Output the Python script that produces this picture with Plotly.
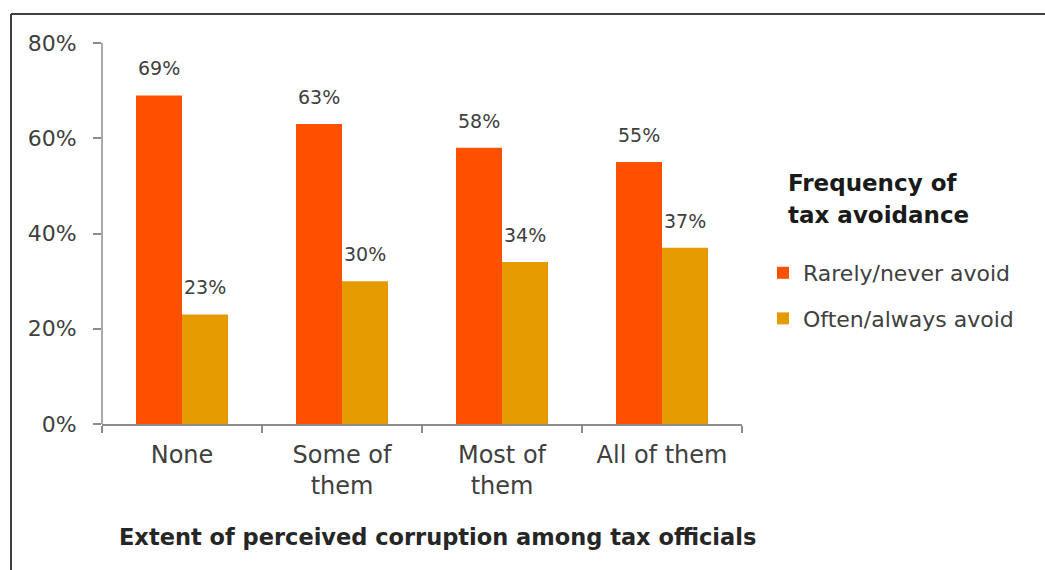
import plotly.graph_objects as go

categories = ["None", "Some of<br>them", "Most of<br>them", "All of them"]
series_names = ["Rarely/never avoid", "Often/always avoid"]
rarely_never = [69, 63, 58, 55]
often_always = [23, 30, 34, 37]
y_ticks = [0, 20, 40, 60, 80]
colors = ["#FF5000", "#E59B00"]

W, H = 1045, 570
L, R, T, B = 102, 303, 43, 146
pw, ph = W - L - R, H - T - B
FONT = "DejaVu Sans"
TXT = "#404040"
AXIS = "#8c8c8c"


def px_x(x):
    return (x - L) / pw


def px_y(y):
    return (H - B - y) / ph


fig = go.Figure()
for name, vals, col in zip(series_names, [rarely_never, often_always], colors):
    fig.add_trace(go.Bar(
        x=categories, y=vals, name=name, marker=dict(color=col, line=dict(width=0)),
        legendgroup=name,
    ))

# value labels above each bar
for i, vals in enumerate([rarely_never, often_always]):
    for c, v in zip(categories, vals):
        fig.add_annotation(
            x=c, y=v, text=f"{v}%", showarrow=False, xref="x", yref="y",
            xshift=-23 if i == 0 else 23, yanchor="bottom", yshift=14,
            font=dict(family=FONT, size=19, color=TXT),
        )

# x axis title
fig.add_annotation(
    x=px_x(437), y=px_y(537), xref="paper", yref="paper",
    text="<b>Extent of perceived corruption among tax officials</b>",
    showarrow=False, xanchor="center", yanchor="middle",
    font=dict(family=FONT, size=22.5, color="#262626"),
)

# legend heading, one line per annotation
for line, yc in [("Frequency of", 183), ("tax avoidance", 215)]:
    fig.add_annotation(
        x=px_x(786), y=px_y(yc), xref="paper", yref="paper",
        text=f"<b>{line}</b>", align="left",
        showarrow=False, xanchor="left", yanchor="middle",
        font=dict(family=FONT, size=23, color="#1a1a1a"),
    )

# vertical axis line
fig.add_shape(type="line", xref="paper", yref="paper", x0=0, x1=0, y0=0, y1=1,
              line=dict(color=AXIS, width=1.5))

# frame lines along the top and left edges
fx0, fx1 = px_x(11), px_x(W)
fy_top, fy_bot = px_y(14), px_y(H)
fig.add_shape(type="line", xref="paper", yref="paper", x0=fx0, x1=fx1, y0=fy_top, y1=fy_top,
              line=dict(color="#404040", width=2))
fig.add_shape(type="line", xref="paper", yref="paper", x0=fx0, x1=fx0, y0=fy_bot, y1=fy_top,
              line=dict(color="#404040", width=2))

fig.update_layout(
    width=W, height=H,
    margin=dict(l=L, r=R, t=T, b=B),
    paper_bgcolor="white", plot_bgcolor="rgba(0,0,0,0)",
    barmode="group", bargap=0.425, bargroupgap=0,
    font=dict(family=FONT, color=TXT),
    legend=dict(
        x=px_x(763), y=px_y(252), xanchor="left", yanchor="top",
        font=dict(family=FONT, size=22, color=TXT),
        tracegroupgap=14, bgcolor="rgba(0,0,0,0)",
    ),
    xaxis=dict(
        showline=True, linecolor=AXIS, linewidth=1.5,
        ticks="outside", tickson="boundaries", ticklen=7, tickcolor=AXIS, tickwidth=1.5,
        tickfont=dict(family=FONT, size=24, color=TXT), ticklabelstandoff=8,
        showgrid=False,
    ),
    yaxis=dict(
        range=[0, 80], tickvals=y_ticks, ticktext=[f"{v}%" for v in y_ticks],
        showline=False,
        ticks="outside", ticklen=8, tickcolor=AXIS, tickwidth=1.5,
        tickfont=dict(family=FONT, size=22, color=TXT), ticklabelstandoff=12,
        showgrid=False, zeroline=False,
    ),
)

fig.write_html("out.html")
